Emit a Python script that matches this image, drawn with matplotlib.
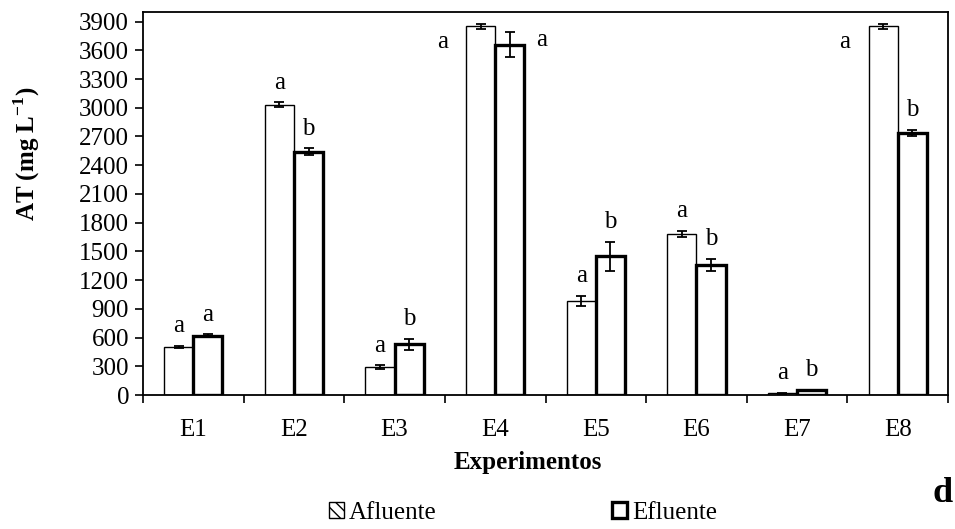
import numpy as np
import matplotlib
matplotlib.use('Agg')
import matplotlib.pyplot as plt
from matplotlib.patches import Patch

plt.rcParams['font.family'] = ['Liberation Serif', 'DejaVu Serif']
plt.rcParams['mathtext.fontset'] = 'custom'
plt.rcParams['mathtext.rm'] = 'Liberation Serif'
plt.rcParams['mathtext.bf'] = 'Liberation Serif:bold'

experimentos = ['E1', 'E2', 'E3', 'E4', 'E5', 'E6', 'E7', 'E8']

afluente = [505, 3030, 290, 3850, 980, 1680, 20, 3850]
afluente_err = [10, 25, 20, 25, 55, 35, 5, 25]
afluente_letras = ['a', 'a', 'a', 'a', 'a', 'a', 'a', 'a']

efluente = [620, 2540, 530, 3660, 1450, 1360, 50, 2740]
efluente_err = [15, 35, 60, 130, 150, 65, 5, 30]
efluente_letras = ['a', 'b', 'b', 'a', 'b', 'b', 'b', 'b']

# where each letter goes: above the bar, or beside it (E4 and E8 hit the top)
pos_af = ['top', 'top', 'top', 'left', 'top', 'top', 'top', 'left']
pos_ef = ['top', 'top', 'top', 'right', 'top', 'top', 'top', 'top']

FS = 18
bar_w = 0.29

fig = plt.figure(figsize=(9.55, 5.29), dpi=100)
ax = fig.add_axes([143 / 955, 1 - 395 / 529, 805 / 955, 383 / 529])

x = np.arange(len(experimentos))

err_kw = dict(ecolor='black', elinewidth=1.3, capsize=3.5, capthick=1.3)
ax.bar(x - bar_w / 2, afluente, bar_w, yerr=afluente_err,
       color='white', edgecolor='black', linewidth=1.0,
       error_kw=err_kw, zorder=2)
ax.bar(x + bar_w / 2, efluente, bar_w, yerr=efluente_err,
       color='white', edgecolor='black', linewidth=2.4,
       error_kw=err_kw, zorder=2)


def put_letter(xc, val, err, letra, pos):
    if pos == 'top':
        ax.text(xc, val + err + 140, letra, ha='center', va='baseline',
                fontsize=FS)
    elif pos == 'left':
        ax.text(xc - bar_w / 2 - 0.18, val - 230, letra, ha='right',
                va='baseline', fontsize=FS)
    else:
        ax.text(xc + bar_w / 2 + 0.12, val - 10, letra, ha='left',
                va='baseline', fontsize=FS)


for i in range(len(experimentos)):
    put_letter(x[i] - bar_w / 2, afluente[i], afluente_err[i],
               afluente_letras[i], pos_af[i])
    put_letter(x[i] + bar_w / 2, efluente[i], efluente_err[i],
               efluente_letras[i], pos_ef[i])

ax.set_xlim(-0.5, len(experimentos) - 0.5)
ax.set_ylim(0, 4000)
ax.set_yticks(np.arange(0, 3901, 300))
ax.set_xticks(x)
ax.set_xticklabels(experimentos, fontsize=FS)
ax.set_xticks(np.arange(-0.5, len(experimentos)), minor=True)
ax.tick_params(axis='x', which='major', length=0, pad=17)
ax.tick_params(axis='x', which='minor', length=6, width=1.2,
               direction='out')
ax.tick_params(axis='y', length=6, width=1.2, direction='out',
               labelsize=FS, pad=4)

for s in ax.spines.values():
    s.set_linewidth(1.3)

ax.set_xlabel('Experimentos', fontsize=FS, fontweight='bold')
ax.xaxis.set_label_coords(0.478, -0.145)
ax.set_ylabel(r'AT (mg L$^{\mathbf{-1}}$)', fontsize=FS, fontweight='bold')
ax.yaxis.set_label_coords(-0.126, 0.63)

handles = [
    Patch(facecolor='white', edgecolor='black', linewidth=1.0, hatch='\\\\\\'),
    Patch(facecolor='white', edgecolor='black', linewidth=2.4),
]
fig.legend(handles, ['Afluente', 'Efluente'], loc='center',
           bbox_to_anchor=(523 / 955, 1 - 513 / 529), ncol=2, frameon=False,
           fontsize=FS, handlelength=0.6, handleheight=0.6, handletextpad=0.2,
           columnspacing=7.0)

fig.text(932 / 955, 1 - 493 / 529, 'd', fontsize=26, fontweight='bold',
         ha='left', va='center')

fig.savefig('out.png', dpi=100)
